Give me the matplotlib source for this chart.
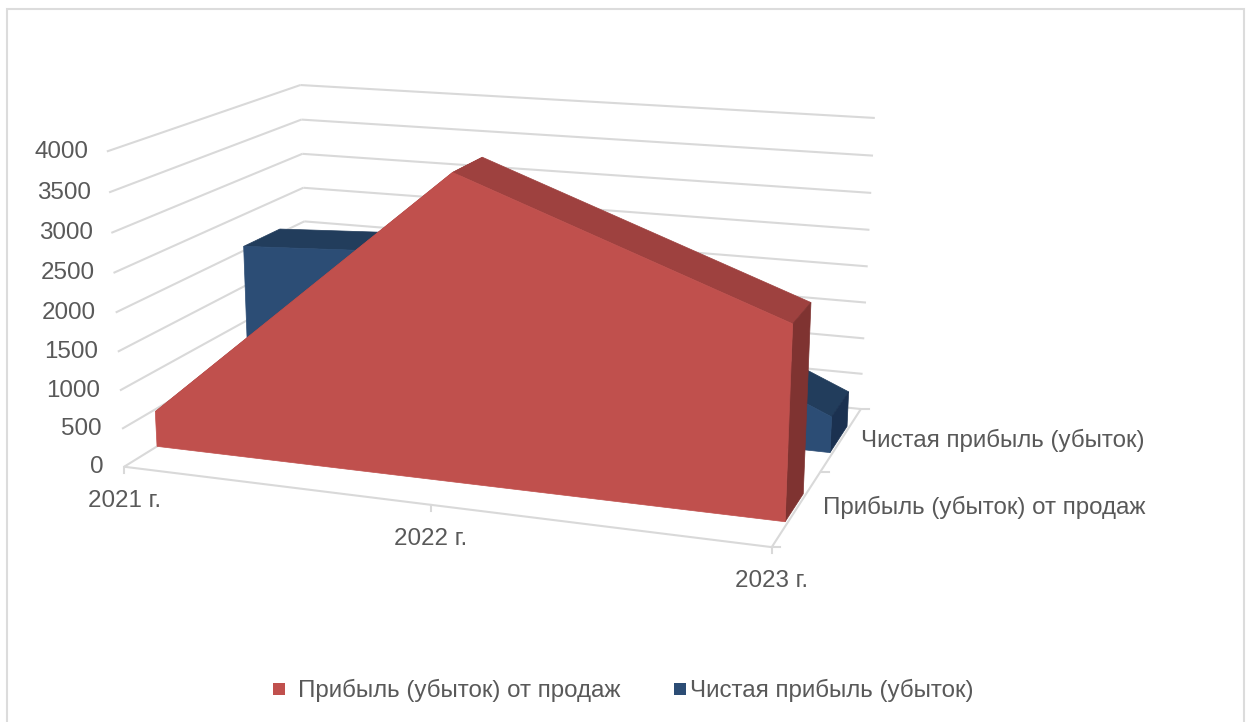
#!/usr/bin/env python
# 3-D area chart: matplotlib's 3-D axes can't give this exact perspective,
# so the projection is fitted to the axis corners and everything goes through it.

import numpy as np
import matplotlib
matplotlib.use("Agg")
import matplotlib.pyplot as plt
from matplotlib.patches import Polygon, Rectangle

plt.rcParams['font.family'] = ['Liberation Sans', 'DejaVu Sans']

years = ["2021 г.", "2022 г.", "2023 г."]
y_ticks = [0, 500, 1000, 1500, 2000, 2500, 3000, 3500, 4000]
sales_name = "Прибыль (убыток) от продаж"
net_name = "Чистая прибыль (убыток)"
sales_profit = [470, 3860, 2390]
net_profit = [2060, 2250, 480]

Y_MAX = 4000.0
TEXT_COL = "#595959"
GRID_COL = "#D9D9D9"
FONT = 17.4

# axis position (x, value, depth) -> pixel position in the picture
anchors = [
    ((0, 4000, 0), (107, 151)),
    ((0, 2000, 0), (116, 311)),
    ((0, 0, 0), (125, 466)),
    ((0, 4000, 1), (300, 85)),
    ((0, 2000, 1), (304, 222)),
    ((1, 4000, 1), (875, 119)),
    ((1, 2000, 1), (868, 266)),
    ((1, 0, 1), (860, 408)),
    ((1, 0, 0), (770, 546)),
    ((1, 0, 0.5), (823, 471)),
    ((0.5, 0, 0), (430, 509)),
]


def fit_camera(pairs):
    rows = []
    for (x, v, z), (px, py) in pairs:
        w = [x, v / Y_MAX, z, 1.0]
        rows.append(w + [0, 0, 0, 0] + [-px * c for c in w])
        rows.append([0, 0, 0, 0] + w + [-py * c for c in w])
    _, _, vt = np.linalg.svd(np.array(rows))
    return vt[-1].reshape(3, 4)


CAM = fit_camera(anchors)


def project(x, v, z):
    p = CAM @ np.array([x, v / Y_MAX, z, 1.0])
    return p[0] / p[2], p[1] / p[2]


def draw_line(ax, a, b, lw=1.5):
    pa, pb = project(*a), project(*b)
    ax.plot([pa[0], pb[0]], [pa[1], pb[1]], color=GRID_COL, lw=lw,
            solid_capstyle="butt", zorder=1)


def draw_area(ax, values, z0, z1, front, top, side, zo):
    n = len(values)
    # right end sits a hair inside the wall
    xs = np.linspace(0.0, 0.996, n)
    for i in range(n - 1):
        quad = [project(xs[i], values[i], z0), project(xs[i + 1], values[i + 1], z0),
                project(xs[i + 1], values[i + 1], z1), project(xs[i], values[i], z1)]
        ax.add_patch(Polygon(quad, closed=True, fc=top, ec=top, lw=0.5, zorder=zo))
    end = [project(xs[-1], values[-1], z0), project(xs[-1], values[-1], z1),
           project(xs[-1], 0, z1), project(xs[-1], 0, z0)]
    ax.add_patch(Polygon(end, closed=True, fc=side, ec=side, lw=0.5, zorder=zo + 1))
    face = [project(xs[i], values[i], z0) for i in range(n)]
    face += [project(xs[-1], 0, z0), project(xs[0], 0, z0)]
    ax.add_patch(Polygon(face, closed=True, fc=front, ec=front, lw=0.5, zorder=zo + 2))


fig = plt.figure(figsize=(12.51, 7.22), dpi=100)
ax = fig.add_axes([0, 0, 1, 1])
ax.set_xlim(0, 1251)
ax.set_ylim(722, 0)
ax.axis("off")

# chart frame, runs off the bottom of the picture
ax.add_patch(Rectangle((6.5, 8.5), 1237.5, 730, fc="white", ec="#DCDCDC", lw=1.5, zorder=0))

for v in y_ticks:
    draw_line(ax, (0, v, 0), (0, v, 1))
    draw_line(ax, (0, v, 1), (1, v, 1))
    px, py = project(0, v, 0)
    ax.text(px - 18 - 3 * (1 - v / Y_MAX), py + 0.5, str(v), ha="right", va="center",
            color=TEXT_COL, fontsize=FONT)

# floor
draw_line(ax, (0, 0, 0), (1, 0, 0))
draw_line(ax, (1, 0, 0), (1, 0, 1))

# small ticks on the floor edges
for x in [0, 0.5, 1]:
    px, py = project(x, 0, 0)
    ax.plot([px, px], [py, py + 6], color=GRID_COL, lw=1.5, zorder=1)
for z in [0, 0.5, 1]:
    px, py = project(1, 0, z)
    ax.plot([px, px + 8], [py, py], color=GRID_COL, lw=1.5, zorder=1)

draw_area(ax, net_profit, 0.64, 0.85, "#2C4D75", "#223D5C", "#1B3150", 3)
draw_area(ax, sales_profit, 0.155, 0.34, "#C0504D", "#9E413F", "#7F3331", 7)

# category labels
for x, label in zip([0, 0.5, 1], years):
    px, py = project(x, 0, 0)
    ax.text(px, py + 34, label, ha="center", va="center", color=TEXT_COL, fontsize=FONT)

ax.text(861, 440, net_name, ha="left", va="center", color=TEXT_COL, fontsize=FONT)
ax.text(823, 507, sales_name, ha="left", va="center", color=TEXT_COL, fontsize=FONT)

# legend
ax.add_patch(Rectangle((273, 683), 12, 12, fc="#C0504D", ec="none"))
ax.text(298, 690, sales_name, ha="left", va="center", color=TEXT_COL, fontsize=FONT)
ax.add_patch(Rectangle((674, 683), 12, 12, fc="#2C4D75", ec="none"))
ax.text(690, 690, net_name, ha="left", va="center", color=TEXT_COL, fontsize=FONT)

plt.savefig("out.png", dpi=100)
